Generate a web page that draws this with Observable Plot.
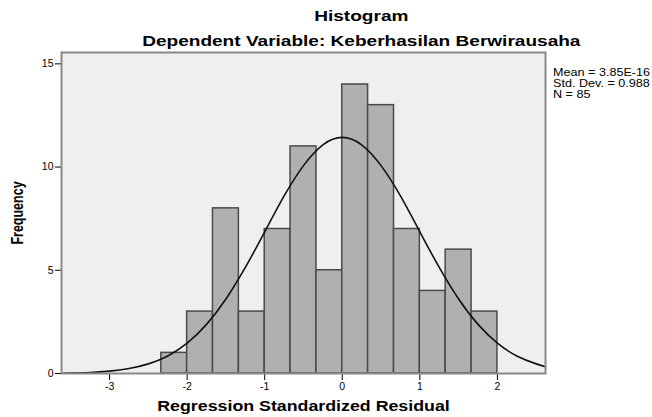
<!DOCTYPE html>
<html>
<head>
<meta charset="utf-8">
<script src="https://cdn.jsdelivr.net/npm/d3@7"></script>
<script src="https://cdn.jsdelivr.net/npm/@observablehq/plot@0.6"></script>
<style>
  html, body { margin: 0; padding: 0; background: #fff; }
  #wrap { position: relative; width: 652px; height: 417px; overflow: hidden; font-family: "Liberation Sans", Arial, sans-serif; }
  .t { position: absolute; color: #000; white-space: nowrap; }
  .c { left: 0; width: 722px; text-align: center; transform: scaleX(1.27); transform-origin: 0 0; font-weight: bold; font-size: 15px; }
  #title { top: 7px; width: 569px; }
  #subtitle { top: 32px; width: 569px; }
  #xlabel { top: 398px; width: 478px; font-size: 14px; }
  #ylabel { left: 18px; top: 213px; font-weight: bold; font-size: 12.5px; transform: translate(-50%, -50%) rotate(-90deg) scaleY(1.25); }
  #legend { left: 553px; top: 67px; font-size: 10.5px; line-height: 11px; transform: scaleX(1.2); transform-origin: 0 0; }
  svg g[aria-label="x-axis tick label"] text, svg g[aria-label="y-axis tick label"] text { font-size: 10.5px; }
</style>
</head>
<body>
<div id="wrap">
  <div class="t c" id="title">Histogram</div>
  <div class="t c" id="subtitle">Dependent Variable: Keberhasilan Berwirausaha</div>
  <div class="t c" id="xlabel">Regression Standardized Residual</div>
  <div class="t" id="ylabel">Frequency</div>
  <div class="t" id="legend">Mean = 3.85E-16<br>Std. Dev. = 0.988<br>N = 85</div>
</div>
<script>
// Histogram bins (lower edges, upper edges) and frequencies
const binLow  = [-2.333, -2.0, -1.667, -1.333, -1.0, -0.667, -0.333, 0.0, 0.333, 0.667, 1.0, 1.333, 1.667];
const binHigh = [-2.0, -1.667, -1.333, -1.0, -0.667, -0.333, 0.0, 0.333, 0.667, 1.0, 1.333, 1.667, 2.0];
const counts  = [1, 3, 8, 3, 7, 11, 5, 14, 13, 7, 4, 6, 3];

// Normal curve
const curveX = [-3.62, -3.25, -3.0, -2.75, -2.5, -2.25, -2.0, -1.75, -1.5, -1.25, -1.0, -0.75, -0.5, -0.25, 0.0, 0.25, 0.5, 0.75, 1.0, 1.25, 1.5, 1.75, 2.0, 2.25, 2.5, 2.62];
const curveY = [0.014, 0.051, 0.114, 0.240, 0.466, 0.850, 1.47, 2.38, 3.61, 5.14, 6.86, 8.60, 10.07, 11.08, 11.44, 11.08, 10.07, 8.60, 6.86, 5.14, 3.61, 2.38, 1.47, 0.850, 0.466, 0.33];

// Axis ticks
const xTicks = [-3, -2, -1, 0, 1, 2];
const xTickLabels = ["-3", "-2", "-1", "0", "1", "2"];
const yTicks = [0, 5, 10, 15];
const yTickLabels = ["0", "5", "10", "15"];

const bars = counts.map((c, i) => ({x1: binLow[i], x2: binHigh[i], y: c}));
const curve = curveX.map((x, i) => ({x, y: curveY[i]}));

const chart = Plot.plot({
  width: 652,
  height: 417,
  marginTop: 52,
  marginLeft: 61,
  marginRight: 107,
  marginBottom: 44,
  style: {fontFamily: "'Liberation Sans', Arial, sans-serif", fontSize: "10px", color: "#000", background: "transparent"},
  x: {domain: [-3.62, 2.62], ticks: xTicks, tickSize: 7, tickPadding: 2, label: null,
      tickFormat: d => xTickLabels[xTicks.indexOf(d)]},
  y: {domain: [0, 15.55], ticks: yTicks, tickSize: 6, tickPadding: 2, label: null,
      tickFormat: d => yTickLabels[yTicks.indexOf(d)]},
  marks: [
    Plot.frame({fill: "#efefef", stroke: "none"}),
    Plot.rectY(bars, {x1: "x1", x2: "x2", y: "y", fill: "#b0b0b0", stroke: "#4a4a4a", strokeWidth: 1.5}),
    Plot.line(curve, {x: "x", y: "y", curve: "natural", stroke: "#111", strokeWidth: 1.6}),
    Plot.frame({stroke: "#8a8a8a", strokeWidth: 2})
  ]
});
document.getElementById("wrap").prepend(chart);
chart.style.position = "absolute";
chart.style.left = "0";
chart.style.top = "0";
</script>
</body>
</html>
